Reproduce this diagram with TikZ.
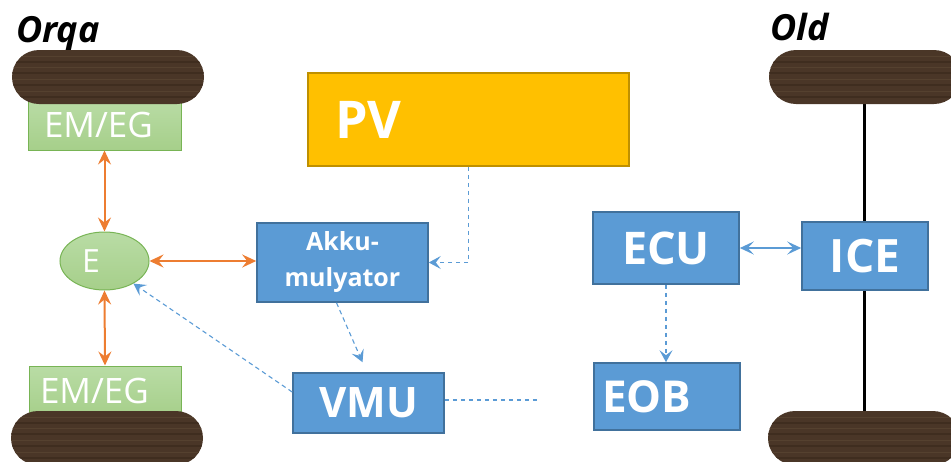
\documentclass[tikz,border=0pt]{standalone}
\usepackage{fontspec}
\setmainfont{Open Sans}
\usetikzlibrary{arrows.meta,shapes.geometric,calc}
\definecolor{bluefill}{HTML}{5B9BD5}
\definecolor{blueedge}{HTML}{41719C}
\definecolor{orangeA}{HTML}{ED7D31}
\definecolor{greentop}{HTML}{B9DCA5}
\definecolor{greenbot}{HTML}{A6CF8A}
\definecolor{greenedge}{HTML}{78B455}
\definecolor{pvfill}{HTML}{FFC000}
\definecolor{pvedge}{HTML}{BF9000}
\definecolor{woodA}{HTML}{4A3627}
\definecolor{woodB}{HTML}{3F2D1F}
\definecolor{woodC}{HTML}{55412F}
\begin{document}
\begin{tikzpicture}[x=1pt,y=-1pt,
  bluebox/.style={draw=blueedge, fill=bluefill, line width=1.6pt, rectangle, inner sep=0pt, text=white, font=\bfseries},
  greenbox/.style={draw=greenedge, top color=greentop, bottom color=greenbot, line width=1pt, rectangle, inner sep=0pt, text=white},
  pvbox/.style={draw=pvedge, fill=pvfill, line width=1.6pt, rectangle, inner sep=0pt, text=white, font=\bfseries\fontsize{52}{56}\selectfont},
  wheel/.style={fill=woodA, rectangle, rounded corners=27pt, minimum width=192pt, minimum height=54pt, inner sep=0pt,
    path picture={
      \foreach \yy/\cc/\ww in {-20/woodB/1.5,-14/woodC/1,-8/woodB/2,-2/woodC/1,4/woodB/1.5,10/woodC/1,15/woodB/2,21/woodC/1}
        \draw[\cc, line width=\ww pt] ([yshift=\yy pt]path picture bounding box.west) -- ([yshift=\yy pt]path picture bounding box.east);
    }},
  orangearrow/.style={draw=orangeA, line width=2pt, {Stealth[length=14pt,width=13pt,inset=5pt]}-{Stealth[length=14pt,width=13pt,inset=5pt]}},
  dasharrow/.style={draw=bluefill, line width=1.1pt, dash pattern=on 4.5pt off 3.5pt, -{Stealth[length=12pt,width=13pt,inset=5pt]}},
  dashline/.style={draw=bluefill, line width=1.1pt, dash pattern=on 4.5pt off 3.5pt},
  bluearrow/.style={draw=bluefill, line width=2pt, {Stealth[length=14pt,width=13pt,inset=6pt]}-{Stealth[length=14pt,width=13pt,inset=6pt]}},
  axle/.style={draw=black, line width=3pt},
  sidelabel/.style={font=\bfseries\itshape\fontsize{36}{40}\selectfont, text=black, inner sep=0pt}
]
\useasboundingbox (0,0) rectangle (951,461);
\clip (0,0) rectangle (951,461);

% side labels
\node[sidelabel, anchor=base west] (orqa) at (16,42) {Orqa};
\node[sidelabel, anchor=base west] (old) at (770,40) {Old};

% axle on the right
\coordinate (axtop) at (864,80);
\coordinate (axbot) at (864,430);
\draw[axle] (axtop) -- (axbot);

% green boxes (behind wheels)
\node[greenbox, minimum width=153pt, minimum height=50pt, text width=121pt, inner xsep=16pt, align=left,
      font=\fontsize{35}{38}\selectfont] (emt) at (104.5,125) {EM/EG};
\node[greenbox, minimum width=152pt, minimum height=50pt, text width=130pt, inner xsep=11pt, align=left,
      font=\fontsize{35}{38}\selectfont] (emb) at (105,391) {EM/EG};

% wheels
\node[wheel] (wtl) at (108,77) {};
\node[wheel] (wbl) at (107,438) {};
\node[wheel] (wtr) at (865,77) {};
\node[wheel] (wbr) at (864,438) {};

% ellipse E
\node[ellipse, draw=greenedge, top color=greentop, bottom color=greenbot, line width=1pt,
      minimum width=89pt, minimum height=58pt, inner sep=0pt, text=white,
      font=\fontsize{32}{34}\selectfont] (e) at (104.5,261) {E\hspace*{27pt}};

% PV
\node[pvbox, minimum width=321pt, minimum height=93pt, text width=267pt, inner xsep=27pt, align=left] (pv) at (468.5,119.5) {PV};

% blue boxes
\node[bluebox, minimum width=171pt, minimum height=79pt, align=center,
      font=\bfseries\fontsize{25}{36}\selectfont] (akku) at (342.5,262.5) {Akku-\\mulyator};
\node[bluebox, minimum width=151pt, minimum height=60pt,
      font=\bfseries\fontsize{42}{44}\selectfont] (vmu) at (368.5,403) {VMU};
\node[bluebox, minimum width=146pt, minimum height=72pt,
      font=\bfseries\fontsize{45}{48}\selectfont] (ecu) at (666,248) {ECU};
\node[bluebox, minimum width=126pt, minimum height=68pt,
      font=\bfseries\fontsize{46}{48}\selectfont] (ice) at (865,256) {ICE};
\node[bluebox, minimum width=146pt, minimum height=67pt, text width=130pt, inner xsep=8pt, align=left,
      font=\bfseries\fontsize{44}{48}\selectfont] (eob) at (667,396.5) {EOB};

% orange connectors
\draw[orangearrow] (emt.south) -- (e.north);
\draw[orangearrow] (e.south) -- (emb.north);
\draw[orangearrow] (e.east) -- (e.east -| akku.west);

% dashed connectors
\draw[dasharrow] (pv.south) |- (akku.east);
\draw[dasharrow] ([xshift=-6pt]akku.south) -- ([xshift=-6pt,yshift=10pt]vmu.north);
\draw[dasharrow] ([yshift=11pt]vmu.west) -- (e.-38);
\coordinate (vmuend) at (539,400);
\draw[dashline] (vmu.east |- vmuend) -- (vmuend);
\draw[dasharrow] (ecu.south) -- (ecu.south |- eob.north);

% ECU <-> ICE
\draw[bluearrow] (ecu.east) -- (ecu.east -| ice.west);
\end{tikzpicture}
\end{document}
